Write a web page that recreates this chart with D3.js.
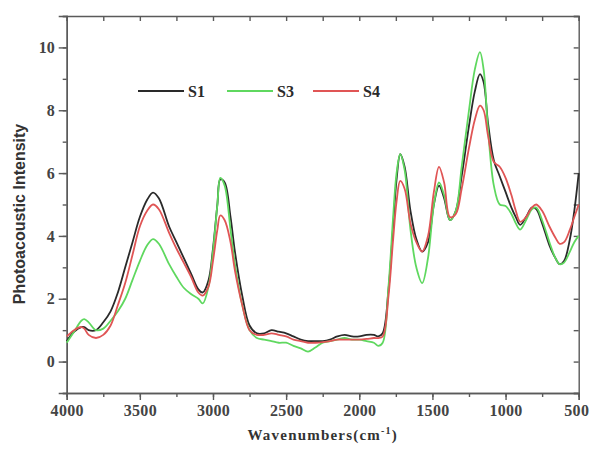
<!DOCTYPE html>
<html lang="en">
<head>
<meta charset="UTF-8">
<title>Photoacoustic spectra</title>
<script src="https://d3js.org/d3.v7.min.js"></script>
<style>
  body { margin: 0; background: #fff; }
  .tick text { font-family: "Liberation Serif", "DejaVu Serif", serif; font-weight: bold; font-size: 16px; fill: #444; }
  .axis path, .axis line { stroke: #5a5a5a; }
</style>
</head>
<body>
<svg id="svg"></svg>
<script>
// wavenumbers (cm-1), one row of values per sample
const waves = [4000, 3950, 3900, 3880, 3850, 3800, 3750, 3700, 3650, 3600, 3550, 3500, 3450, 3410, 3370, 3300, 3250, 3200, 3150, 3100, 3070, 3030, 3000, 2970, 2950, 2920, 2880, 2850, 2800, 2750, 2700, 2650, 2600, 2550, 2500, 2450, 2400, 2350, 2300, 2250, 2200, 2150, 2100, 2050, 2000, 1950, 1900, 1870, 1840, 1800, 1770, 1745, 1720, 1690, 1650, 1610, 1570, 1530, 1490, 1455, 1420, 1380, 1340, 1300, 1250, 1210, 1175, 1150, 1120, 1080, 1040, 1000, 960, 930, 900, 860, 820, 790, 750, 700, 660, 630, 600, 560, 530, 500];

const s1 = [0.65, 0.95, 1.1, 1.1, 1.0, 1.0, 1.25, 1.6, 2.2, 3.0, 3.8, 4.6, 5.15, 5.38, 5.2, 4.3, 3.8, 3.3, 2.8, 2.3, 2.2, 2.6, 3.6, 5.0, 5.8, 5.7, 4.6, 3.5, 2.1, 1.15, 0.9, 0.9, 1.0, 0.95, 0.9, 0.8, 0.7, 0.65, 0.65, 0.65, 0.7, 0.8, 0.85, 0.8, 0.8, 0.85, 0.85, 0.8, 0.9, 2.3, 4.2, 5.8, 6.6, 6.2, 4.8, 3.9, 3.5, 3.8, 5.0, 5.6, 5.2, 4.5, 4.8, 5.9, 7.5, 8.6, 9.15, 8.9, 7.6, 6.4, 5.9, 5.4, 4.9, 4.6, 4.35, 4.6, 4.9, 4.85, 4.4, 3.7, 3.3, 3.1, 3.2, 3.9, 4.8, 6.0];

const s3 = [0.6, 0.95, 1.3, 1.35, 1.25, 1.0, 1.05, 1.3, 1.6, 2.0, 2.6, 3.2, 3.7, 3.9, 3.75, 3.1, 2.7, 2.35, 2.15, 2.0, 1.85, 2.4, 3.5, 5.0, 5.85, 5.6, 4.2, 3.1, 1.8, 1.0, 0.75, 0.7, 0.65, 0.6, 0.6, 0.5, 0.42, 0.32, 0.45, 0.6, 0.65, 0.7, 0.75, 0.7, 0.7, 0.65, 0.6, 0.5, 0.6, 2.4, 4.5, 6.0, 6.6, 6.1, 4.2, 3.0, 2.5, 3.3, 5.0, 5.7, 5.3, 4.5, 4.8, 6.2, 8.0, 9.3, 9.85, 9.3, 7.4, 5.6, 5.0, 4.95, 4.7, 4.4, 4.2, 4.5, 4.85, 4.9, 4.5, 3.8, 3.3, 3.1, 3.15, 3.5, 3.8, 4.0];

const s4 = [0.8, 1.0, 1.1, 1.05, 0.85, 0.75, 0.85, 1.15, 1.8, 2.5, 3.4, 4.3, 4.8, 5.0, 4.85, 4.1, 3.6, 3.15, 2.7, 2.2, 2.1, 2.4, 3.2, 4.2, 4.65, 4.5, 3.8, 2.9, 1.8, 1.0, 0.85, 0.85, 0.9, 0.85, 0.8, 0.7, 0.65, 0.6, 0.6, 0.62, 0.65, 0.7, 0.7, 0.7, 0.7, 0.72, 0.75, 0.75, 0.8, 2.1, 3.8, 5.1, 5.75, 5.5, 4.4, 3.8, 3.5, 4.0, 5.4, 6.2, 5.7, 4.6, 4.7, 5.5, 6.8, 7.7, 8.15, 8.0, 7.2, 6.35, 6.2, 5.85, 5.3, 4.8, 4.45, 4.6, 4.9, 5.0, 4.8, 4.3, 3.95, 3.75, 3.8, 4.2, 4.6, 5.0];

const names = ["S1", "S3", "S4"];
const colors = ["#2a2a2a", "#5fd85f", "#e05555"];
const xTicks = [4000, 3500, 3000, 2500, 2000, 1500, 1000, 500];
const yTicks = [0, 2, 4, 6, 8, 10];

const width = 590, height = 455;
const margin = { top: 16, right: 11.3, bottom: 62, left: 66.7 };

const svg = d3.select("#svg").attr("width", width).attr("height", height);

const x = d3.scaleLinear().domain([4000, 500]).range([margin.left, width - margin.right]);
const y = d3.scaleLinear().domain([-1, 11]).range([height - margin.bottom, margin.top]);

const minorX = d3.range(500, 4001, 250);
const minorY = d3.range(-1, 11.01, 1);

// frame + axes
function axisG(axis, tr) {
    return svg.append("g").attr("class", "axis").attr("transform", tr).call(axis)
        .call(g => g.selectAll("path, line").attr("stroke-width", 1.4));
}
axisG(d3.axisBottom(x).tickValues(minorX).tickSize(4).tickFormat(""), `translate(0,${height - margin.bottom})`);
const xAx = axisG(d3.axisBottom(x).tickValues(xTicks).tickSize(7).tickPadding(5).tickFormat(d3.format("d")), `translate(0,${height - margin.bottom})`);
xAx.selectAll(".tick text").style("letter-spacing", "0.3px");
// last label sits against the right edge, as in the original
xAx.selectAll(".tick text").filter(d => d === 500).attr("text-anchor", "end").attr("dx", 10);
axisG(d3.axisLeft(y).tickValues(minorY).tickSize(4).tickFormat(""), `translate(${margin.left},0)`);
axisG(d3.axisLeft(y).tickValues(yTicks).tickSize(8).tickPadding(4), `translate(${margin.left},0)`);
axisG(d3.axisBottom(x).tickValues(minorX).tickSize(5).tickFormat(""), `translate(0,${margin.top})`);
axisG(d3.axisLeft(y).tickValues(minorY).tickSize(5).tickFormat(""), `translate(${width - margin.right},0)`);

// spectra
const line = d3.line().curve(d3.curveCatmullRom.alpha(0.5));
[s1, s3, s4].forEach((vals, i) => {
    svg.append("path")
        .attr("fill", "none")
        .attr("stroke", colors[i])
        .attr("stroke-width", 1.8)
        .attr("d", line(waves.map((w, j) => [x(w), y(vals[j])])));
});

// legend
const legX = [138, 227, 313];
names.forEach((n, i) => {
    svg.append("line")
        .attr("x1", legX[i]).attr("x2", legX[i] + 46)
        .attr("y1", 91).attr("y2", 91)
        .attr("stroke", colors[i]).attr("stroke-width", 1.8);
    svg.append("text")
        .attr("x", legX[i] + 50).attr("y", 97)
        .style("font-family", "Liberation Serif, serif")
        .style("font-weight", "bold").style("font-size", "16px")
        .attr("fill", "#2a2a2a")
        .text(n);
});

// axis titles
svg.append("text")
    .attr("transform", "translate(25,214) rotate(-90)")
    .attr("text-anchor", "middle")
    .style("font-family", "Liberation Sans, Arial, sans-serif")
    .style("font-weight", "bold").style("font-size", "16px")
    .attr("fill", "#333")
    .text("Photoacoustic Intensity");

const xt = svg.append("text")
    .attr("x", (margin.left + width - margin.right) / 2).attr("y", 440)
    .attr("text-anchor", "middle")
    .style("font-family", "Liberation Serif, serif")
    .style("font-weight", "bold").style("font-size", "15px")
    .style("letter-spacing", "1.2px")
    .attr("fill", "#333");
xt.append("tspan").text("Wavenumbers(cm");
xt.append("tspan").attr("dy", -6).style("font-size", "10px").text("-1");
xt.append("tspan").attr("dy", 6).text(")");
</script>
</body>
</html>
